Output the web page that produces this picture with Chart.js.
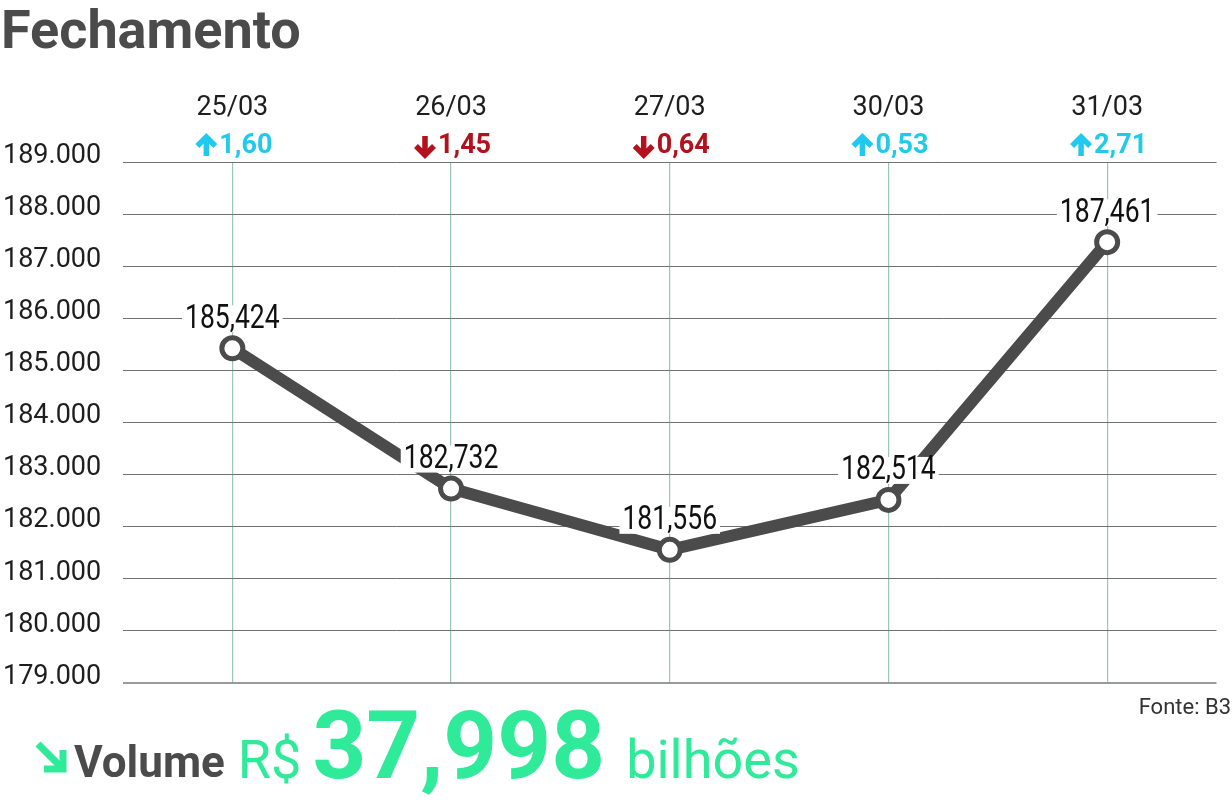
<!DOCTYPE html>
<html>
<head>
<meta charset="utf-8">
<script src="https://cdn.jsdelivr.net/npm/chart.js@4/dist/chart.umd.min.js"></script>
<style>
  body { margin: 0; background: #fff; }
  canvas { display: block; }
</style>
</head>
<body>
<canvas id="fechamentoChart" width="1232" height="803"></canvas>
<script>
// Data
const days = ["25/03", "26/03", "27/03", "30/03", "31/03"];
const closes = [185424, 182732, 181556, 182514, 187461];
const changes = ["1,60", "1,45", "0,64", "0,53", "2,71"];
const directions = ["up", "down", "down", "up", "up"];
const volumeText = "37,998";

const GREEN = "#2fea98";
const BLUE = "#22c9ee";
const RED = "#b3111c";
const DARK = "#4b4b4b";

function fmtAxis(v) {
  return (v / 1000).toFixed(3);          // 189.000
}
function fmtPoint(v) {
  return (v / 1000).toFixed(3).replace(".", ",");  // 185,424
}

function drawArrow(ctx, x, y, dir, color) {
  // thick arrow, x = centre, y = centre
  ctx.save();
  ctx.strokeStyle = color;
  ctx.lineWidth = 5.5;
  ctx.lineJoin = "miter";
  const s = dir === "up" ? -1 : 1;
  ctx.beginPath();
  ctx.moveTo(x, y - s * 10);
  ctx.lineTo(x, y + s * 8);
  ctx.stroke();
  ctx.beginPath();
  ctx.moveTo(x - 9, y + s * 0);
  ctx.lineTo(x, y + s * 9);
  ctx.lineTo(x + 9, y + s * 0);
  ctx.stroke();
  ctx.restore();
}

// Texts around the plot
const extrasPlugin = {
  id: "extras",
  afterDatasetsDraw(chart) {
    const ctx = chart.ctx;
    const meta = chart.getDatasetMeta(0);
    ctx.save();
    ctx.font = "34px Roboto";
    ctx.textAlign = "center";
    ctx.textBaseline = "middle";
    const sx = 0.78;  // condensed look
    meta.data.forEach((pt, i) => {
      const txt = fmtPoint(closes[i]);
      const w = ctx.measureText(txt).width * sx;
      const y = pt.y - 29;
      ctx.fillStyle = "#fff";
      ctx.fillRect(pt.x - w / 2 - 3, y - 14, w + 6, 27);
      ctx.save();
      ctx.translate(pt.x, y);
      ctx.scale(sx, 1);
      ctx.fillStyle = "#111";
      ctx.fillText(txt, 0, 0);
      ctx.restore();
    });
    ctx.restore();
  },
  afterDraw(chart) {
    const ctx = chart.ctx;
    const x = chart.scales.x;
    ctx.save();

    // title
    ctx.fillStyle = DARK;
    ctx.font = "bold 54px Roboto";
    ctx.textAlign = "left";
    ctx.textBaseline = "alphabetic";
    ctx.fillText("Fechamento", 1, 48);

    // dates and daily change
    days.forEach((d, i) => {
      const cx = x.getPixelForValue(i);
      ctx.fillStyle = "#1e1e1e";
      ctx.font = "27px Roboto";
      ctx.textAlign = "center";
      ctx.textBaseline = "middle";
      ctx.fillText(d, cx, 108);

      const color = directions[i] === "up" ? BLUE : RED;
      ctx.font = "bold 27px Roboto";
      const tw = ctx.measureText(changes[i]).width;
      const total = 20 + 3 + tw;
      const left = cx - total / 2 + 2;
      drawArrow(ctx, left + 10, 146, directions[i], color);
      ctx.fillStyle = color;
      ctx.textAlign = "left";
      ctx.fillText(changes[i], left + 23, 146);
    });

    // source
    ctx.fillStyle = "#333";
    ctx.font = "22px Roboto";
    ctx.textAlign = "right";
    ctx.textBaseline = "alphabetic";
    ctx.fillText("Fonte: B3", 1231, 714);

    // volume line
    ctx.strokeStyle = GREEN;
    ctx.lineWidth = 7;
    ctx.lineJoin = "miter";
    ctx.beginPath();
    ctx.moveTo(38, 744);
    ctx.lineTo(61, 767);
    ctx.stroke();
    ctx.beginPath();
    ctx.moveTo(63, 750);
    ctx.lineTo(63, 769);
    ctx.lineTo(44, 769);
    ctx.stroke();

    let px = 74;
    ctx.textAlign = "left";
    ctx.fillStyle = DARK;
    ctx.font = "bold 44px Roboto";
    ctx.fillText("Volume", px, 777);
    px += ctx.measureText("Volume").width + 13;
    ctx.fillStyle = GREEN;
    ctx.font = "54px Roboto";
    ctx.fillText("R$", px, 778);
    px += ctx.measureText("R$").width + 11;
    ctx.font = "bold 94px Roboto";
    ctx.fillText(volumeText, px, 778);
    px += ctx.measureText(volumeText).width + 21;
    ctx.font = "54px Roboto";
    ctx.fillText("bilhões", px, 778);

    ctx.restore();
  }
};

const ctx = document.getElementById("fechamentoChart").getContext("2d");
new Chart(ctx, {
  type: "line",
  data: {
    labels: days,
    datasets: [{
      data: closes,
      borderColor: DARK,
      borderWidth: 12,
      pointRadius: 10.5,
      pointBorderWidth: 5,
      pointBorderColor: DARK,
      pointBackgroundColor: "#fff",
      tension: 0
    }, {
      // centre dot of the markers
      data: closes,
      showLine: false,
      pointRadius: 2.5,
      pointBorderWidth: 0,
      pointBackgroundColor: DARK
    }]
  },
  options: {
    responsive: false,
    animation: false,
    layout: { padding: { top: 162, bottom: 120, left: 3, right: 12 } },
    plugins: {
      legend: { display: false },
      tooltip: { enabled: false }
    },
    scales: {
      x: {
        offset: true,
        grid: { offset: false, color: "#9cc4b8", lineWidth: 1.2, drawTicks: false },
        border: { display: false },
        ticks: { display: false }
      },
      y: {
        min: 179000,
        max: 189000,
        afterFit(scale) { scale.width = 120; },
        grid: {
          drawTicks: false,
          color: (c) => c.index === 0 ? "#9a9a9a" : "#707070",
          lineWidth: (c) => c.index === 0 ? 2 : 1
        },
        border: { display: false },
        ticks: {
          stepSize: 1000,
          crossAlign: "far",
          labelOffset: -6,
          padding: 0,
          color: "#1e1e1e",
          font: { family: "Roboto", size: 27 },
          callback: (v) => fmtAxis(v)
        }
      }
    }
  },
  plugins: [extrasPlugin]
});
</script>
</body>
</html>
